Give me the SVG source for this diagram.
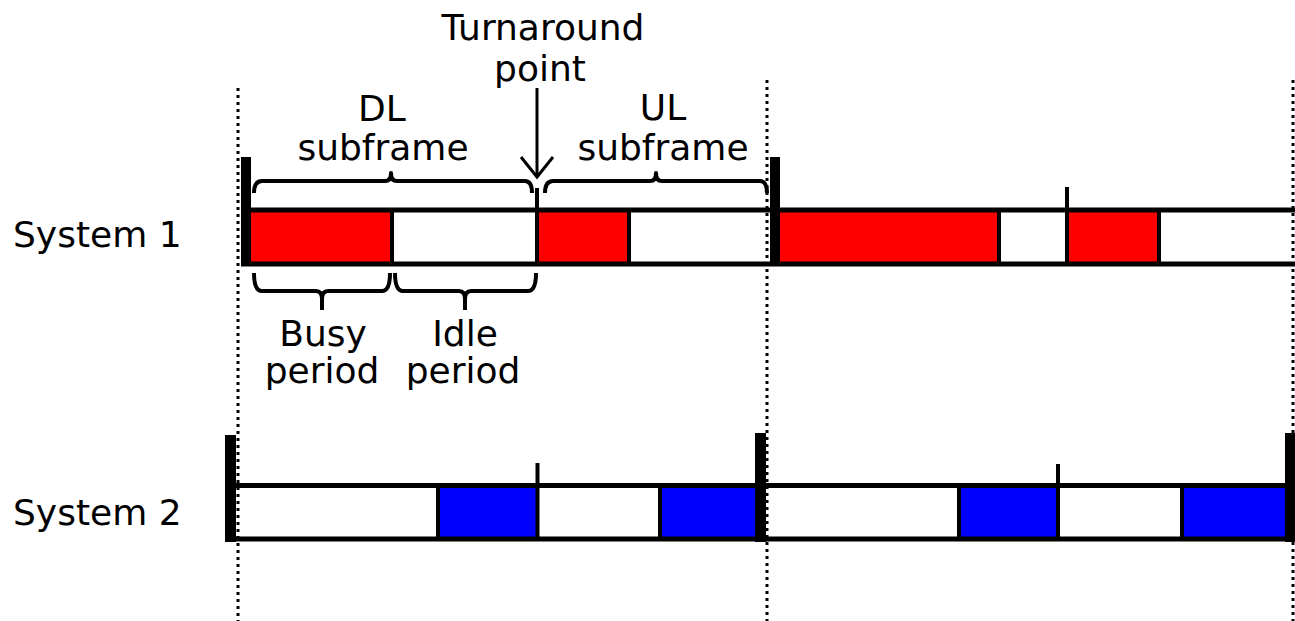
<svg xmlns="http://www.w3.org/2000/svg" width="1295" height="621" viewBox="0 0 1295 621">
<style>
text{font-family:"DejaVu Sans","Verdana",sans-serif;font-size:36px;fill:#000}
.c{text-anchor:middle}
.dot{stroke:#000;stroke-width:3;stroke-dasharray:3 4;fill:none}
.ln{stroke:#000;stroke-width:5;fill:none}
.dv{stroke:#000;stroke-width:4;fill:none}
.br{stroke:#000;stroke-width:4;fill:none;stroke-linejoin:round}
.red{fill:#FF0000}
.blue{fill:#0000FF}
.thick{fill:#000}
</style>
<rect width="1295" height="621" fill="#fff"/>
<g id="guides">
<line class="dot" x1="238" y1="88" x2="238" y2="621"/>
<line class="dot" x1="767" y1="80" x2="767" y2="621"/>
<line class="dot" x1="1293" y1="80" x2="1293" y2="621"/>
</g>
<g id="system1">
<text x="13" y="247">System 1</text>
<rect class="red" x="250" y="212" width="141" height="50"/>
<rect class="red" x="539" y="212" width="90" height="50"/>
<rect class="red" x="780" y="212" width="218" height="50"/>
<rect class="red" x="1067" y="212" width="92" height="50"/>
<line class="ln" x1="241" y1="210" x2="1295" y2="210"/>
<line class="ln" x1="241" y1="264" x2="1295" y2="264"/>
<line class="dv" x1="392" y1="210" x2="392" y2="264"/>
<line class="dv" x1="537" y1="188" x2="537" y2="264"/>
<line class="dv" x1="629" y1="210" x2="629" y2="264"/>
<line class="dv" x1="999" y1="210" x2="999" y2="264"/>
<line class="dv" x1="1067" y1="187" x2="1067" y2="264"/>
<line class="dv" x1="1159" y1="210" x2="1159" y2="264"/>
<rect class="thick" x="241" y="157" width="10" height="108"/>
<rect class="thick" x="770" y="157" width="10" height="109"/>
</g>
<g id="system2">
<text x="13" y="525">System 2</text>
<rect class="blue" x="440" y="488" width="96" height="49"/>
<rect class="blue" x="662" y="488" width="94" height="49"/>
<rect class="blue" x="961" y="488" width="95" height="49"/>
<rect class="blue" x="1184" y="488" width="101" height="49"/>
<line class="ln" x1="226" y1="485.5" x2="1295" y2="485.5"/>
<line class="ln" x1="226" y1="539" x2="1295" y2="539"/>
<line class="dv" x1="438" y1="485" x2="438" y2="539"/>
<line class="dv" x1="537.5" y1="463" x2="537.5" y2="539"/>
<line class="dv" x1="660" y1="485" x2="660" y2="539"/>
<line class="dv" x1="959" y1="485" x2="959" y2="539"/>
<line class="dv" x1="1058" y1="464" x2="1058" y2="539"/>
<line class="dv" x1="1182" y1="485" x2="1182" y2="539"/>
<rect class="thick" x="225" y="435" width="11" height="107"/>
<rect class="thick" x="755" y="433" width="11" height="109"/>
<rect class="thick" x="1285" y="433" width="10" height="109"/>
</g>
<g id="dl-subframe">
<path class="br" d="M254,193 Q254,181 262,181 L385,181 Q391,181 391,173 Q391,181 397,181 L525,181 Q532,181 532,193"/>
<text class="c" x="382" y="121">DL</text>
<text class="c" x="383" y="160">subframe</text>
</g>
<g id="ul-subframe">
<path class="br" d="M545,193 Q545,181 553,181 L650,181 Q656,181 656,173 Q656,181 662,181 L760,181 Q767,181 767,193"/>
<text class="c" x="663" y="120">UL</text>
<text class="c" x="663" y="160">subframe</text>
</g>
<g id="turnaround">
<text class="c" x="543" y="40">Turnaround</text>
<text class="c" x="540" y="81">point</text>
<line x1="537" y1="88" x2="537" y2="176" stroke="#000" stroke-width="3"/>
<polyline points="521,157 537,177 553,157" fill="none" stroke="#000" stroke-width="3"/>
</g>
<g id="busy">
<path class="br" d="M254,273 Q254,291 262,291 L316,291 Q322,291 322,299 L322,310 M322,299 Q322,291 328,291 L382,291 Q390,291 390,273"/>
<text class="c" x="323" y="346">Busy</text>
<text class="c" x="322" y="383">period</text>
</g>
<g id="idle">
<path class="br" d="M395,273 Q395,291 403,291 L459,291 Q465,291 465,299 L465,310 M465,299 Q465,291 471,291 L528,291 Q536,291 536,273"/>
<text class="c" x="465" y="346">Idle</text>
<text class="c" x="463" y="383">period</text>
</g>
</svg>
